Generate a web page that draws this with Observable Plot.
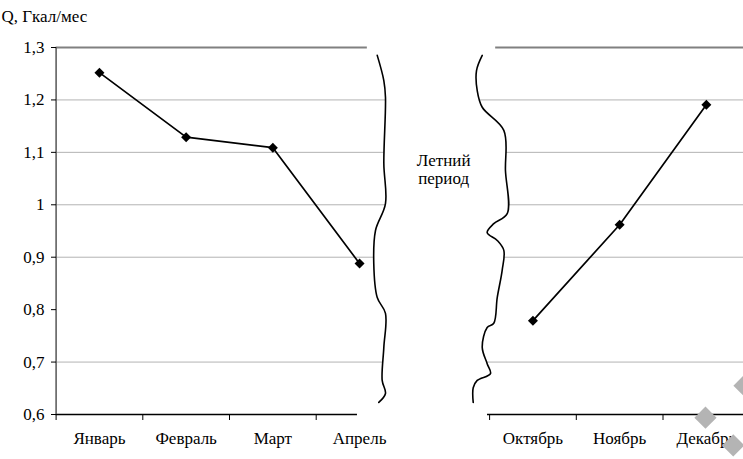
<!DOCTYPE html>
<html><head><meta charset="utf-8">
<script src="https://cdn.jsdelivr.net/npm/d3@7"></script>
<script src="https://cdn.jsdelivr.net/npm/@observablehq/plot@0.6"></script>
<style>
body{margin:0;background:#fff;overflow:hidden}
</style>
</head><body><div id="chart"></div>
<script>
// ---- data ----
const months = ["Январь","Февраль","Март","Апрель","Октябрь","Ноябрь","Декабрь"];
const monthSlots = [0,1,2,3,5,6,7];          // category slot; slot 4 = summer gap
const values = [1.252,1.129,1.109,0.888,0.779,0.962,1.191];
const parts = ["a","a","a","a","b","b","b"];
const yTicks = [0.6,0.7,0.8,0.9,1.0,1.1,1.2,1.3];
const gridValues = [0.7,0.9,1.0,1.1,1.2];
const xTickSlots = [0,1,2,3,5,6,7];
const yTitle = "Q, Гкал/мес";
const gapLabel = "Летний\nпериод";
// axis-break squiggles (slot units, value units)
const breakLeftX = [3.704,3.780,3.799,3.780,3.799,3.684,3.664,3.704,3.799,3.780,3.761,3.799,3.722];
const breakLeftY = [1.285,1.237,1.205,1.079,1.002,0.951,0.888,0.823,0.793,0.728,0.665,0.640,0.623];
const breakRightX = [4.915,4.849,4.857,4.915,5.164,5.183,5.203,5.048,4.972,5.088,5.164,5.145,5.088,5.048,4.972,4.915,4.972,5.010,4.857,4.811,4.811];
const breakRightY = [1.285,1.256,1.218,1.186,1.142,1.065,0.983,0.964,0.947,0.932,0.913,0.875,0.823,0.774,0.766,0.728,0.697,0.678,0.665,0.651,0.623];
const topSegments = [{x1:0,x2:3.59},{x1:5.07,x2:8}];
const axisSegments = [{x1:0,x2:3.476},{x1:4.976,x2:8}];
// watermark diamonds
const wmX = [7.49,7.81,7.94];
const wmY = [0.594,0.541,0.655];

// ---- build tables ----
const rows = months.map((m,i)=>({month:m, slot:monthSlots[i]+0.5, value:values[i], part:parts[i]}));
const bl = breakLeftX.map((x,i)=>({x, y:breakLeftY[i]}));
const br = breakRightX.map((x,i)=>({x, y:breakRightY[i]}));
const poly = bl.concat(br.slice().reverse());
const wm = wmX.map((x,i)=>({x, y:wmY[i]}));
const labelOf = new Map(monthSlots.map((s,i)=>[s+0.5, months[i]]));
const serif = "Liberation Serif";

const chart = Plot.plot({
  width: 743, height: 459,
  marginTop: 47, marginBottom: 45, marginLeft: 56, marginRight: 0,
  style: {fontSize: "16px", color: "#000", background: "#fff", overflow: "visible"},
  x: {domain: [0,8], range: [55.6, 749.2]},
  y: {domain: [0.6,1.3], range: [414, 47]},
  marks: [
    Plot.ruleY(gridValues, {x1: 0, x2: 8, stroke: "#b3b3b3", strokeWidth: 1}),
    Plot.line(poly, {x:"x", y:"y", curve:"catmull-rom", fill:"#fff", stroke:"none"}),
    Plot.ruleY(topSegments, {x1:"x1", x2:"x2", y: 1.3, stroke:"#808080", strokeWidth: 2}),
    Plot.ruleY(axisSegments, {x1:"x1", x2:"x2", y: 0.6, stroke:"#000", strokeWidth: 1.5}),
    Plot.ruleX([0], {y1: 0.6, y2: 1.3, stroke: "#555", strokeWidth: 1.5}),
    Plot.line(bl, {x:"x", y:"y", curve:"catmull-rom", stroke:"#000", strokeWidth: 1.6}),
    Plot.line(br, {x:"x", y:"y", curve:"catmull-rom", stroke:"#000", strokeWidth: 1.6}),
    Plot.axisY({ticks: yTicks, tickSize: 5, tickPadding: 7, fontSize: 17, fontFamily: serif, stroke: "#000",
      tickFormat: d => String(+d.toFixed(1)).replace(".", ",")}),
    Plot.axisX({ticks: xTickSlots, tickSize: 6, tickFormat: () => "", stroke: "#000"}),
    Plot.axisX({ticks: monthSlots.map(s=>s+0.5), tickSize: 0, tickPadding: 17, fontSize: 17, fontFamily: serif,
      tickFormat: d => labelOf.get(d)}),
    Plot.line(rows, {x:"slot", y:"value", z:"part", stroke:"#000", strokeWidth: 1.7}),
    Plot.dot(rows, {x:"slot", y:"value", symbol:"diamond2", r: 4.5, fill:"#000", stroke:"none"}),
    Plot.text([gapLabel], {x: 4.47, y: 1.068, fontSize: 17, fontFamily: serif, lineHeight: 1.1, fill:"#000"}),
    Plot.text([yTitle], {frameAnchor: "top-left", dx: -55, dy: -38, textAnchor: "start", lineAnchor: "top", fontSize: 17, fontFamily: serif, fill:"#000"}),
    Plot.dot(wm, {x:"x", y:"y", symbol:"diamond2", r: 10, fill:"#b4b4b4", stroke:"none", clip: false})
  ]
});
chart.setAttribute("font-family", serif);
chart.style.setProperty("font-family", "'Liberation Serif', serif", "important");
chart.querySelectorAll("text, tspan, g").forEach(t => {
  t.setAttribute("font-family", serif);
  t.style.setProperty("font-family", "'Liberation Serif', serif", "important");
});
document.getElementById("chart").appendChild(chart);
</script>
</body></html>
